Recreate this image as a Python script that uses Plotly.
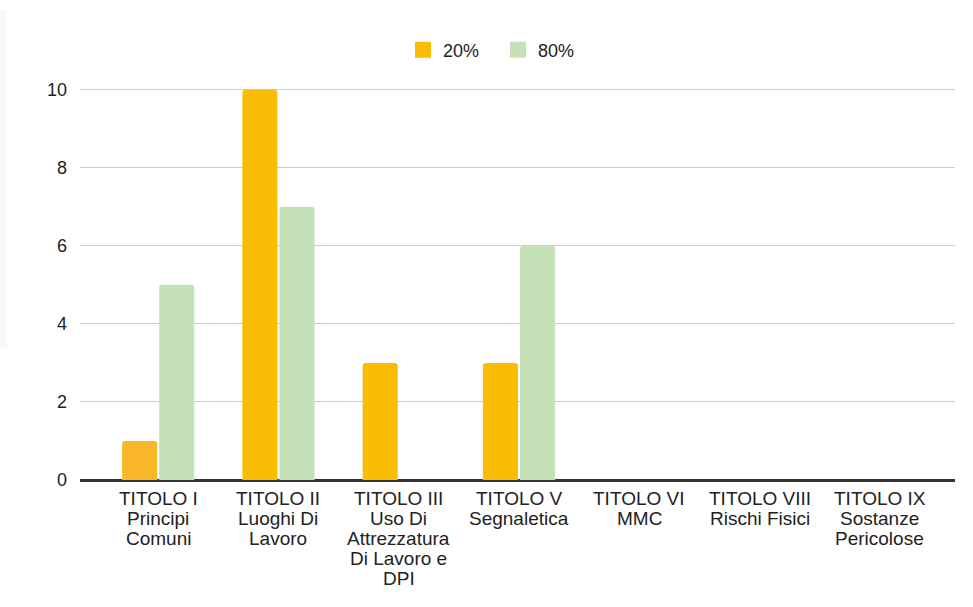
import plotly.graph_objects as go

categories = [
    "TITOLO I<br>Principi<br>Comuni",
    "TITOLO II<br>Luoghi Di<br>Lavoro",
    "TITOLO III<br>Uso Di<br>Attrezzatura<br>Di Lavoro e<br>DPI",
    "TITOLO V<br>Segnaletica",
    "TITOLO VI<br>MMC",
    "TITOLO VIII<br>Rischi Fisici",
    "TITOLO IX<br>Sostanze<br>Pericolose",
]
series_20 = [1, 10, 3, 3, 0, 0, 0]
series_80 = [5, 7, 0, 6, 0, 0, 0]
y_ticks = [0, 2, 4, 6, 8, 10]

ORANGE = "#FBBC04"
GREEN = "#C5E1B7"
TEXT = "#222222"
orange_colors = ["#F9B82A"] + [ORANGE] * (len(categories) - 1)

W, H = 973, 607
L, R, T, B = 80, 18, 78, 127
FONT = "Arial, Liberation Sans, sans-serif"

fig = go.Figure()
fig.add_trace(go.Bar(name="20%", x=categories, y=series_20, showlegend=False,
                     marker=dict(color=orange_colors, line=dict(width=0))))
fig.add_trace(go.Bar(name="80%", x=categories, y=series_80, showlegend=False,
                     marker=dict(color=GREEN, line=dict(width=0))))
# legend-only entries with larger square swatches
for nm, col in (("20%", ORANGE), ("80%", GREEN)):
    fig.add_trace(go.Scatter(name=nm, x=[None], y=[None], mode="markers",
                             marker=dict(symbol="square", size=16, color=col),
                             showlegend=True, hoverinfo="skip"))

pw = W - L - R
ph = H - T - B
def px(x):
    return (x - L) / pw
def py(y):
    return (H - B - y) / ph

# category labels with tight line spacing (one annotation per line)
LINE_H = 20
for cat in categories:
    for i, line in enumerate(cat.split("<br>")):
        fig.add_annotation(x=cat, xref="x", y=0, yref="paper",
                           text=line, showarrow=False, xanchor="center",
                           yanchor="top", yshift=-6 - i * LINE_H,
                           font=dict(family=FONT, size=19, color=TEXT))

# faint background artifacts
fig.add_shape(type="rect", xref="paper", yref="paper",
              x0=px(0), x1=px(7), y0=py(348), y1=py(10),
              fillcolor="#f8f8f8", line=dict(width=0), layer="below")

fig.update_layout(
    width=W, height=H,
    margin=dict(l=L, r=R, t=T, b=B),
    paper_bgcolor="white", plot_bgcolor="white",
    font=dict(family=FONT, size=18, color=TEXT),
    barmode="group", bargap=0.383, bargroupgap=0.055,
    barcornerradius=3,
    showlegend=True,
    legend=dict(orientation="h", x=px(498), xanchor="center",
                y=1 + 28 / ph, yanchor="middle",
                font=dict(size=18, color=TEXT),
                itemwidth=30, entrywidth=50, traceorder="normal"),
    xaxis=dict(range=[-0.65, 6.625], showgrid=False, showline=True,
               linecolor="#333333", linewidth=1.5, ticks="",
               showticklabels=False, fixedrange=True),
    yaxis=dict(range=[0, 10.3], tickvals=y_ticks, showgrid=True,
               gridcolor="#cccccc", gridwidth=1, zeroline=True,
               zerolinecolor="#333333", zerolinewidth=1.5,
               ticks="", ticklabelstandoff=12,
               tickfont=dict(size=18, color=TEXT), fixedrange=True),
)

fig.write_html("out.html")
